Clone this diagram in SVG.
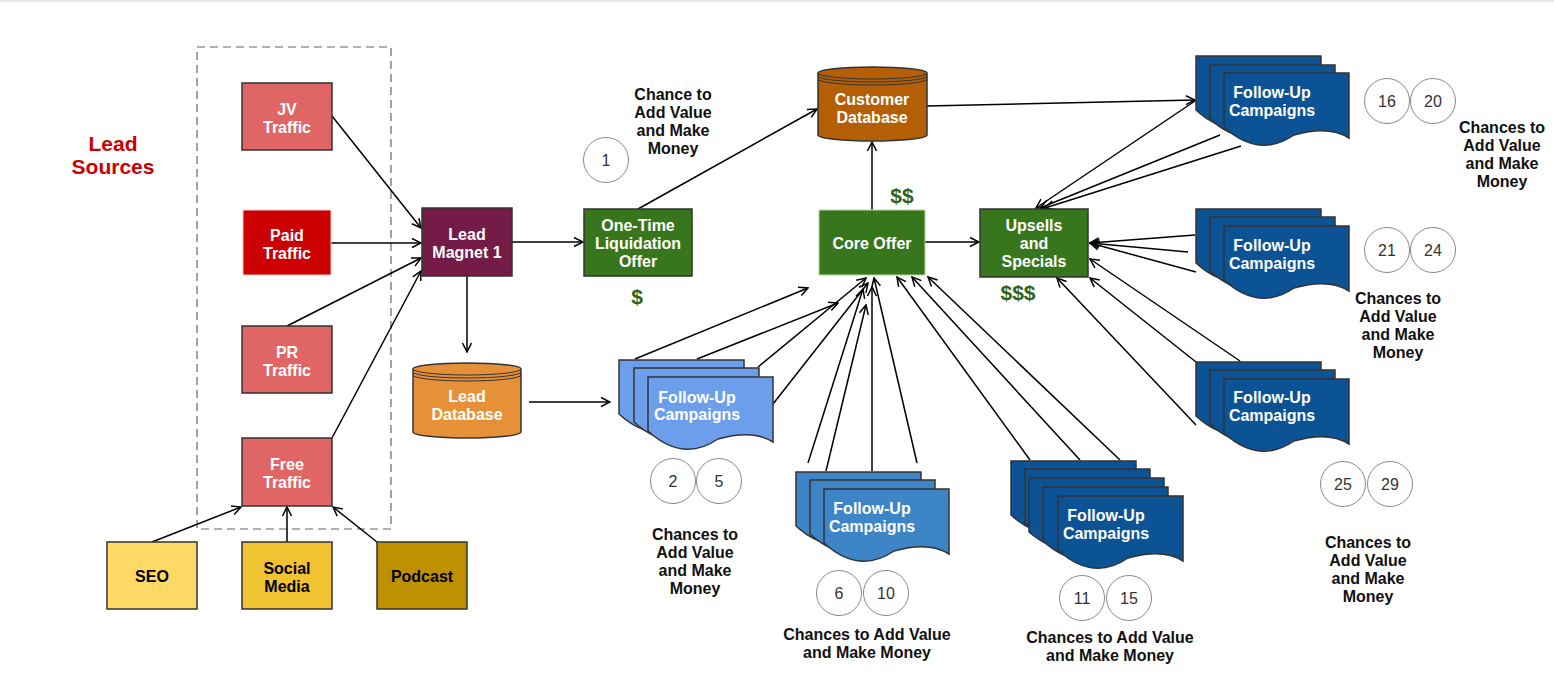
<svg xmlns="http://www.w3.org/2000/svg" xmlns:xlink="http://www.w3.org/1999/xlink" width="1554" height="678" viewBox="0 0 1554 678">
<style>
.n{stroke:#333;stroke-width:1.5}
.t{font-family:"Liberation Sans",Arial,sans-serif;font-weight:bold;font-size:16px;fill:#fff;text-anchor:middle}
.tk{fill:#000}
.c{fill:#fff;stroke:#888;stroke-width:1}
.num{font-family:"Liberation Sans",Arial,sans-serif;font-size:16px;fill:#333;text-anchor:middle}
.lbl{font-family:"Liberation Sans",Arial,sans-serif;font-weight:bold;font-size:16px;fill:#111;text-anchor:middle}
.dol{font-family:"Liberation Sans",Arial,sans-serif;font-weight:bold;font-size:21px;fill:#2F6418;text-anchor:middle}
.ln{stroke:#000;stroke-width:1.5;fill:none;marker-end:url(#a)}
.doc{stroke:#333;stroke-width:1.5}
.lb{fill:#6D9EEB}
.mb{fill:#3D85C6}
.db{fill:#0B5394}
</style>
<defs>
<marker id="a" viewBox="-11 -6 12 12" refX="0" refY="0" markerWidth="12" markerHeight="12" markerUnits="userSpaceOnUse" orient="auto">
<path d="M-9,-4.5 L0,0 L-9,4.5" fill="none" stroke="#000" stroke-width="1.5"/>
</marker>
<path id="doc" d="M0,0 H125 V65 Q105,52 70,62 Q35,86 0,54 Z"/>
<path id="docw" d="M0,0 H135 V65 Q113,52 76,62 Q38,86 0,54 Z"/>
</defs>
<rect width="1554" height="678" fill="#fff"/>
<line x1="0" y1="1" x2="1554" y2="1" stroke="#ddd" stroke-width="1.5"/>

<g id="lead-sources-frame">
<rect x="197" y="47" width="194" height="482" fill="none" stroke="#666" stroke-width="1.2" stroke-dasharray="8,5"/>
<text x="113" y="151" font-family="Liberation Sans,Arial,sans-serif" font-weight="bold" font-size="21" fill="#CC0000" text-anchor="middle">Lead</text>
<text x="113" y="174" font-family="Liberation Sans,Arial,sans-serif" font-weight="bold" font-size="21" fill="#CC0000" text-anchor="middle">Sources</text>
</g>

<g id="connectors">
<line class="ln" x1="332" y1="116" x2="421" y2="228"/>
<line class="ln" x1="331" y1="243" x2="421" y2="243"/>
<line class="ln" x1="287" y1="326" x2="421" y2="258"/>
<line class="ln" x1="332" y1="438" x2="421" y2="271"/>
<line class="ln" x1="152" y1="542" x2="241" y2="507"/>
<line class="ln" x1="287" y1="542" x2="287" y2="507"/>
<line class="ln" x1="377" y1="542" x2="333" y2="507"/>
<line class="ln" x1="467" y1="276" x2="467" y2="352"/>
<line class="ln" x1="512" y1="242" x2="583" y2="242"/>
<line class="ln" x1="529" y1="402" x2="610" y2="402"/>
<line class="ln" x1="638" y1="209" x2="817" y2="109"/>
<line class="ln" x1="872" y1="210" x2="872" y2="142"/>
<line class="ln" x1="925" y1="242" x2="979" y2="242"/>
<line class="ln" x1="927" y1="106" x2="1195" y2="100"/>
<line class="ln" x1="635" y1="359" x2="808" y2="288"/>
<line class="ln" x1="697" y1="359" x2="838" y2="303"/>
<line class="ln" x1="758" y1="367" x2="866" y2="278"/>
<line class="ln" x1="773" y1="404" x2="868" y2="283"/>
<line class="ln" x1="808" y1="463" x2="863" y2="289"/>
<line class="ln" x1="826" y1="471" x2="866" y2="305"/>
<line class="ln" x1="872" y1="471" x2="872" y2="287"/>
<line class="ln" x1="917" y1="463" x2="874" y2="278"/>
<line class="ln" x1="1030" y1="460" x2="897" y2="277"/>
<line class="ln" x1="1080" y1="460" x2="912" y2="277"/>
<line class="ln" x1="1120" y1="460" x2="928" y2="277"/>
<line class="ln" x1="1195" y1="101" x2="1036" y2="208"/>
<line class="ln" x1="1220" y1="135" x2="1040" y2="208"/>
<line class="ln" x1="1241" y1="146" x2="1045" y2="208"/>
<line class="ln" x1="1195" y1="235" x2="1090" y2="243"/>
<line class="ln" x1="1188" y1="252" x2="1090" y2="243"/>
<line class="ln" x1="1196" y1="272" x2="1090" y2="243"/>
<line class="ln" x1="1240" y1="361" x2="1090" y2="259"/>
<line class="ln" x1="1196" y1="362" x2="1090" y2="278"/>
<line class="ln" x1="1196" y1="425" x2="1057" y2="278"/>
</g>

<g id="jv-traffic">
<rect class="n" x="242" y="83" width="90" height="67" fill="#E06666"/>
<text class="t" x="287" y="115">JV</text>
<text class="t" x="287" y="133">Traffic</text>
</g>
<g id="paid-traffic">
<rect x="243" y="210" width="88" height="65" fill="#CC0000" stroke="#F4CCCC" stroke-width="1"/>
<text class="t" x="287" y="241">Paid</text>
<text class="t" x="287" y="259">Traffic</text>
</g>
<g id="pr-traffic">
<rect class="n" x="242" y="326" width="90" height="67" fill="#E06666"/>
<text class="t" x="287" y="358">PR</text>
<text class="t" x="287" y="376">Traffic</text>
</g>
<g id="free-traffic">
<rect class="n" x="242" y="438" width="90" height="68" fill="#E06666"/>
<text class="t" x="287" y="470">Free</text>
<text class="t" x="287" y="488">Traffic</text>
</g>
<g id="seo">
<rect class="n" x="107" y="542" width="90" height="67" fill="#FFD966"/>
<text class="t tk" x="152" y="582">SEO</text>
</g>
<g id="social-media">
<rect class="n" x="242" y="542" width="90" height="67" fill="#F1C232"/>
<text class="t tk" x="287" y="574">Social</text>
<text class="t tk" x="287" y="592">Media</text>
</g>
<g id="podcast">
<rect class="n" x="377" y="542" width="90" height="67" fill="#BF9000"/>
<text class="t tk" x="422" y="582">Podcast</text>
</g>
<g id="lead-magnet">
<rect class="n" x="422" y="208" width="90" height="68" fill="#741B47"/>
<text class="t" x="467" y="240">Lead</text>
<text class="t" x="467" y="258">Magnet 1</text>
</g>
<g id="one-time-offer">
<rect class="n" x="584" y="209" width="108" height="67" fill="#38761D"/>
<text class="t" x="638" y="231">One-Time</text>
<text class="t" x="638" y="249">Liquidation</text>
<text class="t" x="638" y="267">Offer</text>
<text class="dol" x="637" y="304">$</text>
</g>
<g id="lead-database">
<path class="n" d="M413,369 A54,6 0 0 1 521,369 V432 A54,6 0 0 1 413,432 Z" fill="#E69138"/>
<path d="M413,369 A54,6 0 0 0 521,369 M413,372 A54,6 0 0 0 521,372 M413,375 A54,6 0 0 0 521,375" fill="none" stroke="#333" stroke-width="1"/>
<text class="t" x="467" y="402">Lead</text>
<text class="t" x="467" y="420">Database</text>
</g>
<g id="customer-database">
<path class="n" d="M818,73 A54.5,6 0 0 1 927,73 V135 A54.5,6 0 0 1 818,135 Z" fill="#B45F06"/>
<path d="M818,73 A54.5,6 0 0 0 927,73 M818,76 A54.5,6 0 0 0 927,76 M818,79 A54.5,6 0 0 0 927,79" fill="none" stroke="#333" stroke-width="1"/>
<text class="t" x="872" y="105">Customer</text>
<text class="t" x="872" y="123">Database</text>
</g>
<g id="core-offer">
<rect x="819" y="210" width="106" height="65" fill="#38761D" stroke="#B6D7A8" stroke-width="1"/>
<text class="t" x="872" y="249">Core Offer</text>
<text class="dol" x="902" y="203">$$</text>
</g>
<g id="upsells">
<rect class="n" x="980" y="209" width="108" height="68" fill="#38761D"/>
<text class="t" x="1034" y="231">Upsells</text>
<text class="t" x="1034" y="249">and</text>
<text class="t" x="1034" y="267">Specials</text>
<text class="dol" x="1018" y="300">$$$</text>
</g>

<g id="chance-1">
<text class="lbl" x="673" y="100">Chance to</text>
<text class="lbl" x="673" y="118">Add Value</text>
<text class="lbl" x="673" y="136">and Make</text>
<text class="lbl" x="673" y="154">Money</text>
<circle class="c" cx="606" cy="160" r="22.5"/>
<text class="num" x="606" y="166">1</text>
</g>

<g id="followup-2-5">
<use xlink:href="#doc" class="doc lb" x="619" y="360"/>
<use xlink:href="#doc" class="doc lb" x="634" y="368"/>
<use xlink:href="#doc" class="doc lb" x="648" y="377"/>
<text class="t" x="697" y="403">Follow-Up</text>
<text class="t" x="697" y="420">Campaigns</text>
<circle class="c" cx="673" cy="481" r="22.5"/>
<text class="num" x="673" y="487">2</text>
<circle class="c" cx="719" cy="481" r="22.5"/>
<text class="num" x="719" y="487">5</text>
<text class="lbl" x="695" y="540">Chances to</text>
<text class="lbl" x="695" y="558">Add Value</text>
<text class="lbl" x="695" y="576">and Make</text>
<text class="lbl" x="695" y="594">Money</text>
</g>

<g id="followup-6-10">
<use xlink:href="#doc" class="doc mb" x="796" y="472"/>
<use xlink:href="#doc" class="doc mb" x="810" y="480"/>
<use xlink:href="#doc" class="doc mb" x="824" y="489"/>
<text class="t" x="872" y="514">Follow-Up</text>
<text class="t" x="872" y="532">Campaigns</text>
<circle class="c" cx="839" cy="593" r="22.5"/>
<text class="num" x="839" y="599">6</text>
<circle class="c" cx="886" cy="593" r="22.5"/>
<text class="num" x="886" y="599">10</text>
<text class="lbl" x="867" y="640">Chances to Add Value</text>
<text class="lbl" x="867" y="658">and Make Money</text>
</g>

<g id="followup-11-15">
<use xlink:href="#doc" class="doc db" x="1011" y="461"/>
<use xlink:href="#doc" class="doc db" x="1025" y="469"/>
<use xlink:href="#docw" class="doc db" x="1029" y="478"/>
<use xlink:href="#doc" class="doc db" x="1043" y="487"/>
<use xlink:href="#doc" class="doc db" x="1058" y="496"/>
<text class="t" x="1106" y="521">Follow-Up</text>
<text class="t" x="1106" y="539">Campaigns</text>
<circle class="c" cx="1082" cy="598" r="22.5"/>
<text class="num" x="1082" y="604">11</text>
<circle class="c" cx="1129" cy="598" r="22.5"/>
<text class="num" x="1129" y="604">15</text>
<text class="lbl" x="1110" y="643">Chances to Add Value</text>
<text class="lbl" x="1110" y="661">and Make Money</text>
</g>

<g id="followup-16-20">
<use xlink:href="#doc" class="doc db" x="1196" y="56"/>
<use xlink:href="#doc" class="doc db" x="1210" y="65"/>
<use xlink:href="#doc" class="doc db" x="1224" y="73"/>
<text class="t" x="1272" y="98">Follow-Up</text>
<text class="t" x="1272" y="116">Campaigns</text>
<circle class="c" cx="1387" cy="101" r="22.5"/>
<text class="num" x="1387" y="107">16</text>
<circle class="c" cx="1433" cy="101" r="22.5"/>
<text class="num" x="1433" y="107">20</text>
<text class="lbl" x="1502" y="133">Chances to</text>
<text class="lbl" x="1502" y="151">Add Value</text>
<text class="lbl" x="1502" y="169">and Make</text>
<text class="lbl" x="1502" y="187">Money</text>
</g>

<g id="followup-21-24">
<use xlink:href="#doc" class="doc db" x="1196" y="209"/>
<use xlink:href="#doc" class="doc db" x="1210" y="217"/>
<use xlink:href="#doc" class="doc db" x="1224" y="226"/>
<text class="t" x="1272" y="251">Follow-Up</text>
<text class="t" x="1272" y="269">Campaigns</text>
<circle class="c" cx="1387" cy="250" r="22.5"/>
<text class="num" x="1387" y="256">21</text>
<circle class="c" cx="1433" cy="250" r="22.5"/>
<text class="num" x="1433" y="256">24</text>
<text class="lbl" x="1398" y="304">Chances to</text>
<text class="lbl" x="1398" y="322">Add Value</text>
<text class="lbl" x="1398" y="340">and Make</text>
<text class="lbl" x="1398" y="358">Money</text>
</g>

<g id="followup-25-29">
<use xlink:href="#doc" class="doc db" x="1196" y="362"/>
<use xlink:href="#doc" class="doc db" x="1210" y="370"/>
<use xlink:href="#doc" class="doc db" x="1224" y="379"/>
<text class="t" x="1272" y="403">Follow-Up</text>
<text class="t" x="1272" y="421">Campaigns</text>
<circle class="c" cx="1343" cy="484" r="22.5"/>
<text class="num" x="1343" y="490">25</text>
<circle class="c" cx="1390" cy="484" r="22.5"/>
<text class="num" x="1390" y="490">29</text>
<text class="lbl" x="1368" y="548">Chances to</text>
<text class="lbl" x="1368" y="566">Add Value</text>
<text class="lbl" x="1368" y="584">and Make</text>
<text class="lbl" x="1368" y="602">Money</text>
</g>
</svg>
